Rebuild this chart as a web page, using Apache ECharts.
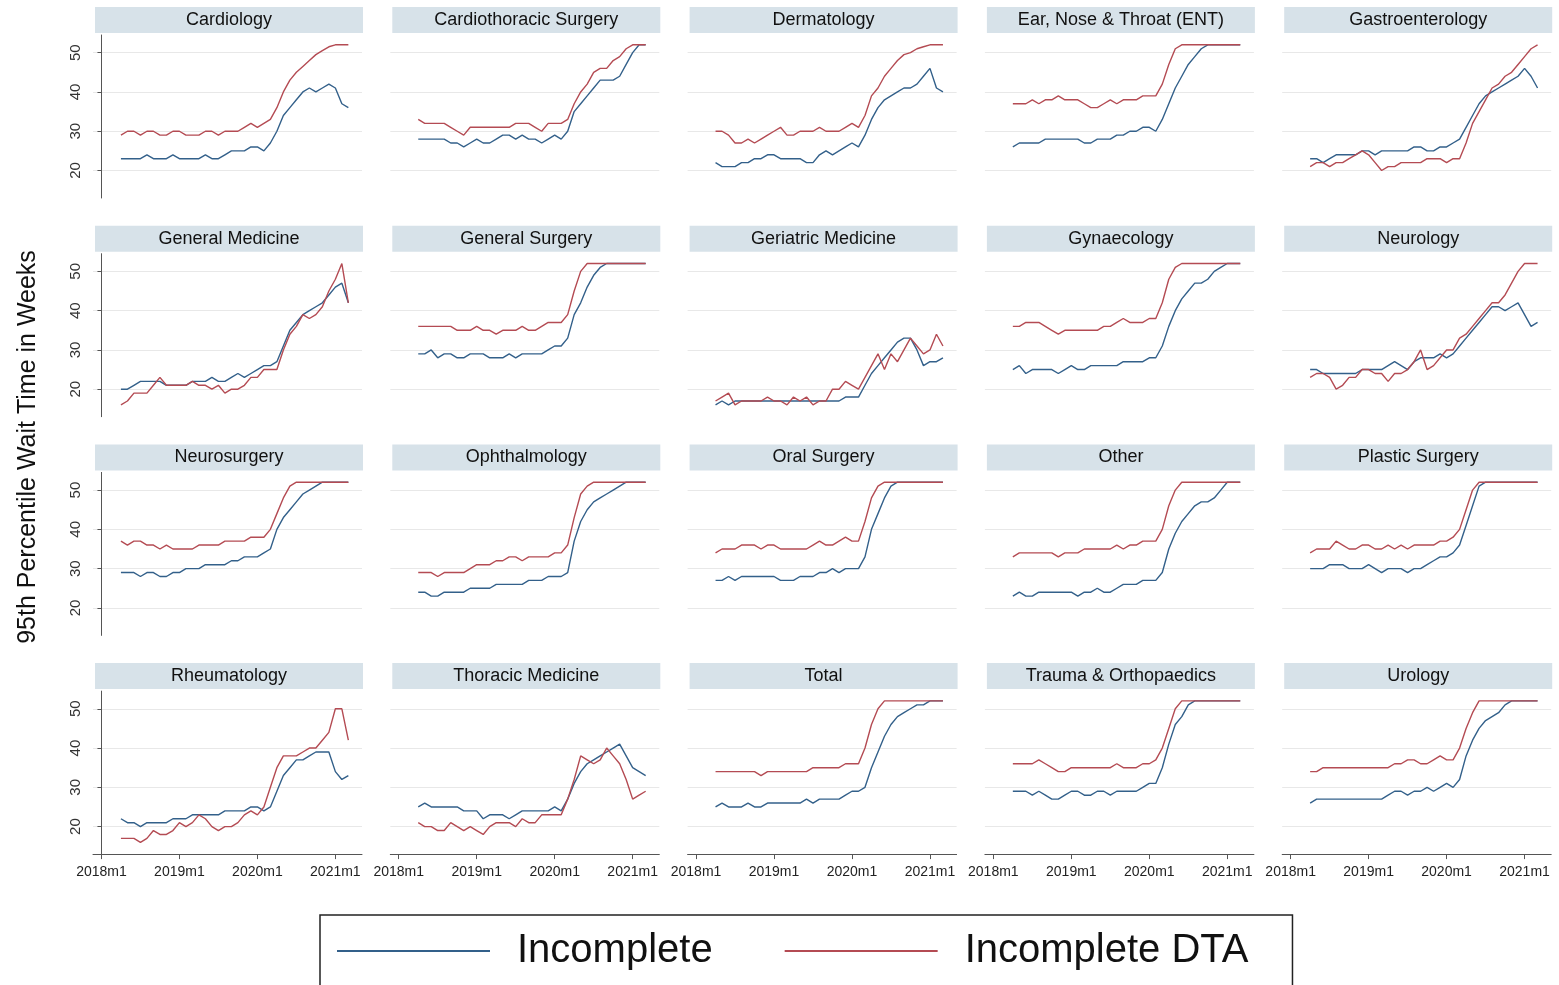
<!DOCTYPE html>
<html lang="en">
<head>
<meta charset="UTF-8">
<title>95th Percentile Wait Time in Weeks</title>
<style>
    html, body { margin: 0; padding: 0; background: #fff; }
    #chart { width: 1559px; height: 985px; }
</style>
</head>
<body>
<div id="chart"></div>
<script src="https://cdn.jsdelivr.net/npm/echarts@6/dist/echarts.min.js"></script>
<script>
// months are counted from 2018m1 = 0; series run 2018m4 .. 2021m3
var firstMonth = 3;
var tickMonths = [0, 12, 24, 36];
var tickLabels = ['2018m1', '2019m1', '2020m1', '2021m1'];
var yTicks = [20, 30, 40, 50];

var specialties = [
    'Cardiology', 'Cardiothoracic Surgery', 'Dermatology', 'Ear, Nose & Throat (ENT)', 'Gastroenterology',
    'General Medicine', 'General Surgery', 'Geriatric Medicine', 'Gynaecology', 'Neurology',
    'Neurosurgery', 'Ophthalmology', 'Oral Surgery', 'Other', 'Plastic Surgery',
    'Rheumatology', 'Thoracic Medicine', 'Total', 'Trauma & Orthopaedics', 'Urology'
];

// Incomplete (blue)
var incomplete = [
    [23,23,23,23,24,23,23,23,24,23,23,23,23,24,23,23,24,25,25,25,26,26,25,27,30,34,36,38,40,41,40,41,42,41,37,36],
    [28,28,28,28,28,27,27,26,27,28,27,27,28,29,29,28,29,28,28,27,28,29,28,30,35,37,39,41,43,43,43,44,47,50,52,52],
    [22,21,21,21,22,22,23,23,24,24,23,23,23,23,22,22,24,25,24,25,26,27,26,29,33,36,38,39,40,41,41,42,44,46,41,40],
    [26,27,27,27,27,28,28,28,28,28,28,27,27,28,28,28,29,29,30,30,31,31,30,33,37,41,44,47,49,51,52,52,52,52,52,52],
    [23,23,22,23,24,24,24,24,25,25,24,25,25,25,25,25,26,26,25,25,26,26,27,28,31,34,37,39,40,41,42,43,44,46,44,41],
    [20,20,21,22,22,22,22,21,21,21,21,22,22,22,23,22,22,23,24,23,24,25,26,26,27,31,35,37,39,40,41,42,44,46,47,42],
    [29,29,30,28,29,29,28,28,29,29,29,28,28,28,29,28,29,29,29,29,30,31,31,33,39,42,46,49,51,52,52,52,52,52,52,52],
    [16,17,16,17,17,17,17,17,17,17,17,17,17,17,17,17,17,17,17,17,18,18,18,21,24,26,28,30,32,33,33,30,26,27,27,28],
    [25,26,24,25,25,25,25,24,25,26,25,25,26,26,26,26,26,27,27,27,27,28,28,31,36,40,43,45,47,47,48,50,51,52,52,52],
    [25,25,24,24,24,24,24,24,25,25,25,25,26,27,26,25,27,28,28,28,29,28,29,31,33,35,37,39,41,41,40,41,42,39,36,37],
    [29,29,29,28,29,29,28,28,29,29,30,30,30,31,31,31,31,32,32,33,33,33,34,35,40,43,45,47,49,50,51,52,52,52,52,52],
    [24,24,23,23,24,24,24,24,25,25,25,25,26,26,26,26,26,27,27,27,28,28,28,29,37,42,45,47,48,49,50,51,52,52,52,52],
    [27,27,28,27,28,28,28,28,28,28,27,27,27,28,28,28,29,29,30,29,30,30,30,33,40,44,48,51,52,52,52,52,52,52,52,52],
    [23,24,23,23,24,24,24,24,24,24,23,24,24,25,24,24,25,26,26,26,27,27,27,29,35,39,42,44,46,47,47,48,50,52,52,52],
    [30,30,30,31,31,31,30,30,30,31,30,29,30,30,30,29,30,30,31,32,33,33,34,36,41,46,51,52,52,52,52,52,52,52,52,52],
    [22,21,21,20,21,21,21,21,22,22,22,23,23,23,23,23,24,24,24,24,25,25,24,25,29,33,35,37,37,38,39,39,39,34,32,33],
    [25,26,25,25,25,25,25,24,24,24,22,23,23,23,22,23,24,24,24,24,24,25,24,27,31,34,36,37,38,39,40,41,38,35,34,33],
    [25,26,25,25,25,26,25,25,26,26,26,26,26,26,27,26,27,27,27,27,28,29,29,30,35,39,43,46,48,49,50,51,51,52,52,52],
    [29,29,29,28,29,28,27,27,28,29,29,28,28,29,29,28,29,29,29,29,30,31,31,35,41,46,48,51,52,52,52,52,52,52,52,52],
    [26,27,27,27,27,27,27,27,27,27,27,27,28,29,29,28,29,29,30,29,30,31,30,32,38,42,45,47,48,49,51,52,52,52,52,52]
];

// Incomplete DTA (red)
var incompleteDTA = [
    [29,30,30,29,30,30,29,29,30,30,29,29,29,30,30,29,30,30,30,31,32,31,32,33,36,40,43,45,46.5,48,49.5,50.5,51.5,52,52,52],
    [33,32,32,32,32,31,30,29,31,31,31,31,31,31,31,32,32,32,31,30,32,32,32,33,37,40,42,45,46,46,48,49,51,52,52,52],
    [30,30,29,27,27,28,27,28,29,30,31,29,29,30,30,30,31,30,30,30,31,32,31,34,39,41,44,46,48,49.5,50,51,51.5,52,52,52],
    [37,37,37,38,37,38,38,39,38,38,38,37,36,36,37,38,37,38,38,38,39,39,39,42,47,51,52,52,52,52,52,52,52,52,52,52],
    [21,22,22,21,22,22,23,24,25,24,22,20,21,21,22,22,22,22,23,23,23,22,23,23,27,32,35,38,41,42,44,45,47,49,51,52],
    [16,17,19,19,19,21,23,21,21,21,21,22,21,21,20,21,19,20,20,21,23,23,25,25,25,30,34,36,39,38,39,41,45,48,52,42],
    [36,36,36,36,36,36,35,35,35,36,35,35,34,35,35,35,36,35,35,36,37,37,37,39,45,50,52,52,52,52,52,52,52,52,52,52],
    [17,18,19,16,17,17,17,17,18,17,17,16,18,17,18,16,17,17,20,20,22,21,20,23,26,29,25,29,27,30,33,31,29,30,34,31],
    [36,36,37,37,37,36,35,34,35,35,35,35,35,35,36,36,37,38,37,37,37,38,38,42,48,51,52,52,52,52,52,52,52,52,52,52],
    [23,24,24,23,20,21,23,23,25,25,24,24,22,24,24,25,27,30,25,26,28,30,30,33,34,36,38,40,42,42,44,47,50,52,52,52],
    [37,36,37,37,36,36,35,36,35,35,35,35,36,36,36,36,37,37,37,37,38,38,38,40,44,48,51,52,52,52,52,52,52,52,52,52],
    [29,29,29,28,29,29,29,29,30,31,31,31,32,32,33,33,32,33,33,33,33,34,34,36,43,49,51,52,52,52,52,52,52,52,52,52],
    [34,35,35,35,36,36,36,35,36,36,35,35,35,35,35,36,37,36,36,37,38,37,37,42,48,51,52,52,52,52,52,52,52,52,52,52],
    [33,34,34,34,34,34,34,33,34,34,34,35,35,35,35,35,36,35,36,36,37,37,37,40,46,50,52,52,52,52,52,52,52,52,52,52],
    [34,35,35,35,37,36,35,35,36,36,35,35,36,35,36,35,36,36,36,36,37,37,38,40,45,50,52,52,52,52,52,52,52,52,52,52],
    [17,17,17,16,17,19,18,18,19,21,20,21,23,22,20,19,20,20,21,23,24,23,25,30,35,38,38,38,39,40,40,42,44,50,50,42],
    [21,20,20,19,19,21,20,19,20,19,18,20,21,21,21,20,22,21,21,23,23,23,23,27,32,38,37,36,37,40,38,36,32,27,28,29],
    [34,34,34,34,34,34,34,33,34,34,34,34,34,34,34,35,35,35,35,35,36,36,36,40,46,50,52,52,52,52,52,52,52,52,52,52],
    [36,36,36,36,37,36,35,34,34,35,35,35,35,35,35,35,36,35,35,35,36,36,37,40,45,50,52,52,52,52,52,52,52,52,52,52],
    [34,34,35,35,35,35,35,35,35,35,35,35,35,36,36,37,37,36,36,37,38,37,37,40,45,49,52,52,52,52,52,52,52,52,52,52]
];

var font = '"Liberation Sans", Arial, Helvetica, sans-serif';
var blue = '#33608a';
var red = '#b44b53';
var colW = 297.3, rowH = 218.7;

var grids = [], xAxes = [], yAxes = [], series = [], graphics = [];

specialties.forEach(function (name, i) {
    var r = Math.floor(i / 5), c = i % 5;
    var left = 93 + c * colW, top = 35 + r * rowH;
    var bottomRow = r === 3, firstCol = c === 0;

    grids.push({ left: left, top: top, width: 269, height: 163 });

    xAxes.push({
        gridIndex: i, type: 'value', min: -1.3, max: 40.1,
        axisLine: { show: bottomRow, lineStyle: { color: '#555', width: 1 } },
        axisTick: { show: bottomRow, customValues: tickMonths, length: 5, lineStyle: { color: '#555' } },
        axisLabel: {
            show: bottomRow, customValues: tickMonths, margin: 11,
            fontSize: 14, color: '#222', fontFamily: font,
            formatter: function (v) { return tickLabels[tickMonths.indexOf(v)]; }
        },
        splitLine: { show: false }
    });

    yAxes.push({
        gridIndex: i, type: 'value', min: 13, max: 54.5,
        axisLine: { show: firstCol, lineStyle: { color: '#555', width: 1 } },
        axisTick: { show: firstCol, customValues: yTicks, length: 4, lineStyle: { color: '#555' } },
        axisLabel: {
            show: firstCol, customValues: yTicks, rotate: 90, margin: 10,
            fontSize: 15, color: '#333', fontFamily: font
        },
        splitLine: { show: true, lineStyle: { color: '#e8e8e8', width: 1 } }
    });

    series.push({
        name: 'Incomplete', type: 'line', xAxisIndex: i, yAxisIndex: i,
        data: incomplete[i].map(function (v, k) { return [firstMonth + k, v]; }),
        symbol: 'none', lineStyle: { width: 1.4, color: blue }, itemStyle: { color: blue }
    });
    series.push({
        name: 'Incomplete DTA', type: 'line', xAxisIndex: i, yAxisIndex: i,
        data: incompleteDTA[i].map(function (v, k) { return [firstMonth + k, v]; }),
        symbol: 'none', lineStyle: { width: 1.4, color: red }, itemStyle: { color: red }
    });

    // facet strip
    graphics.push({
        type: 'rect', silent: true,
        shape: { x: 95 + c * colW, y: 7 + r * rowH, width: 268, height: 26 },
        style: { fill: '#d7e2e9' }
    });
    graphics.push({
        type: 'text', silent: true,
        x: 95 + c * colW + 134, y: 7 + r * rowH + 13,
        style: { text: name, font: '18px ' + font, fill: '#111', align: 'center', verticalAlign: 'middle' }
    });
});

graphics.push({
    type: 'text', silent: true, x: 28, y: 447, rotation: Math.PI / 2,
    style: { text: '95th Percentile Wait Time in Weeks', font: '25px ' + font, fill: '#111', align: 'center', verticalAlign: 'middle' }
});

var chart = echarts.init(document.getElementById('chart'));
chart.setOption({
    animation: false,
    backgroundColor: '#fff',
    grid: grids,
    xAxis: xAxes,
    yAxis: yAxes,
    series: series,
    graphic: graphics,
    legend: {
        data: [
            { name: 'Incomplete', icon: 'rect' },
            { name: 'Incomplete DTA', icon: 'rect' }
        ],
        left: 320, top: 915,
        orient: 'horizontal',
        padding: [16, 44, 16, 17],
        borderColor: '#222', borderWidth: 1.5,
        itemWidth: 153, itemHeight: 2, itemGap: 72,
        textStyle: { fontSize: 40, color: '#111', fontFamily: font, padding: [0, 0, 0, 22] }
    }
});
</script>
</body>
</html>
